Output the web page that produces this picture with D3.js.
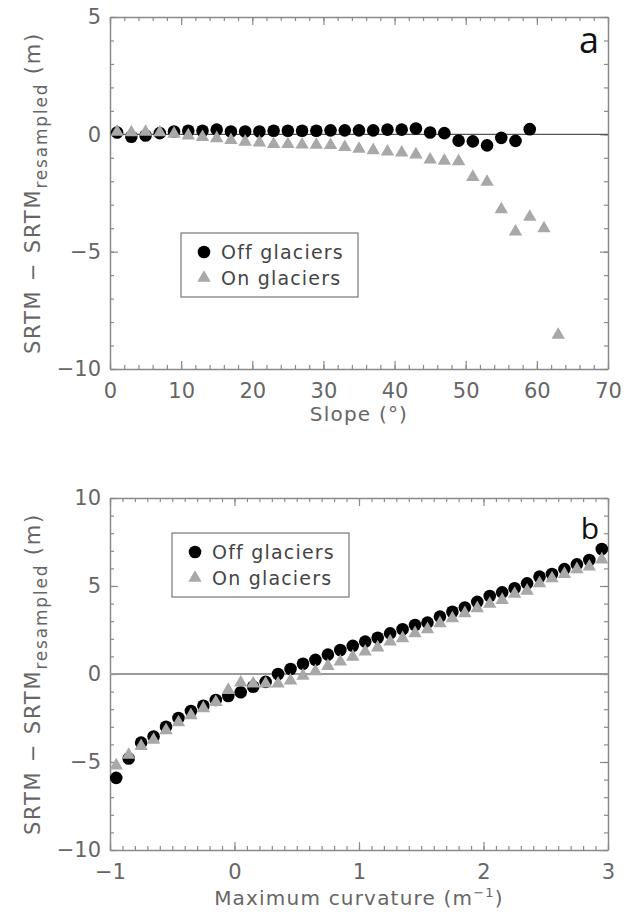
<!DOCTYPE html>
<html>
<head>
<meta charset="utf-8">
<script src="https://cdn.jsdelivr.net/npm/d3@7"></script>
<style>
    body { margin: 0; background: #fff; }
    svg { display: block; }
</style>
</head>
<body>
<svg id="chart"></svg>
<script>
// panel a: slope (deg) vs elevation difference
const slopeOff = [1, 3, 5, 7, 9, 11, 13, 15, 17, 19, 21, 23, 25, 27, 29, 31, 33, 35, 37, 39, 41, 43, 45, 47, 49, 51, 53, 55, 57, 59];
const diffOffA = [0.08, -0.1, -0.05, 0.05, 0.12, 0.15, 0.15, 0.2, 0.12, 0.12, 0.12, 0.15, 0.15, 0.15, 0.15, 0.17, 0.17, 0.17, 0.17, 0.2, 0.2, 0.25, 0.08, 0.05, -0.27, -0.3, -0.47, -0.15, -0.28, 0.22];
const slopeOn = [1, 3, 5, 7, 9, 11, 13, 15, 17, 19, 21, 23, 25, 27, 29, 31, 33, 35, 37, 39, 41, 43, 45, 47, 49, 51, 53, 55, 57, 59, 61, 63];
const diffOnA = [0.1, 0.08, 0.1, 0.08, 0.02, -0.05, -0.12, -0.17, -0.25, -0.32, -0.35, -0.42, -0.42, -0.44, -0.45, -0.46, -0.55, -0.62, -0.68, -0.74, -0.78, -0.86, -1.08, -1.13, -1.15, -1.82, -2.03, -3.2, -4.15, -3.52, -4.01, -8.55];

// panel b: maximum curvature vs elevation difference
const curvature = [-0.95, -0.85, -0.75, -0.65, -0.55, -0.45, -0.35, -0.25, -0.15, -0.05, 0.05, 0.15, 0.25, 0.35, 0.45, 0.55, 0.65, 0.75, 0.85, 0.95, 1.05, 1.15, 1.25, 1.35, 1.45, 1.55, 1.65, 1.75, 1.85, 1.95, 2.05, 2.15, 2.25, 2.35, 2.45, 2.55, 2.65, 2.75, 2.85, 2.95];
const diffOffB = [-5.9, -4.8, -3.9, -3.55, -3.0, -2.5, -2.1, -1.8, -1.48, -1.25, -1.04, -0.72, -0.45, 0.0, 0.28, 0.58, 0.8, 1.1, 1.36, 1.6, 1.84, 2.06, 2.31, 2.54, 2.78, 2.92, 3.26, 3.54, 3.78, 4.1, 4.43, 4.64, 4.87, 5.15, 5.53, 5.68, 5.96, 6.23, 6.48, 7.1];
const diffOnB = [-5.2, -4.6, -4.1, -3.75, -3.2, -2.75, -2.35, -1.95, -1.6, -0.91, -0.49, -0.55, -0.55, -0.55, -0.37, -0.1, 0.15, 0.45, 0.7, 0.98, 1.27, 1.5, 1.84, 2.03, 2.31, 2.54, 2.88, 3.16, 3.45, 3.73, 3.98, 4.2, 4.55, 4.73, 5.15, 5.43, 5.68, 5.95, 6.1, 6.5];

const legendLabels = ["Off glaciers", "On glaciers"];

const width = 630;
const height = 914;
const axisColor = "#8a8a8a";
const textColor = "#666";
const triColor = "#a8a8a8";
const font = "'DejaVu Sans', sans-serif";

const svg = d3.select("#chart")
    .attr("width", width)
    .attr("height", height);

function drawPanel(cfg)
{
    const x = d3.scaleLinear().domain(cfg.xDomain).range([110, 608]);
    const y = d3.scaleLinear().domain(cfg.yDomain).range([cfg.bottom, cfg.top]);

    const g = svg.append("g");

    // minor + major ticks on every side, pointing inward
    const sides = [
        {axis: d3.axisBottom, pos: `translate(0,${cfg.bottom})`, scale: x, labels: true},
        {axis: d3.axisTop, pos: `translate(0,${cfg.top})`, scale: x, labels: false},
        {axis: d3.axisLeft, pos: "translate(110,0)", scale: y, labels: true},
        {axis: d3.axisRight, pos: "translate(608,0)", scale: y, labels: false},
    ];

    sides.forEach(s =>
    {
        const isX = s.scale === x;
        const minor = isX ? cfg.xMinor : cfg.yMinor;
        const major = isX ? cfg.xMajor : cfg.yMajor;

        g.append("g")
            .attr("transform", s.pos)
            .call(s.axis(s.scale).tickValues(minor).tickSize(-4).tickSizeOuter(0).tickFormat(""))
            .call(a => a.select(".domain").remove());

        const ax = g.append("g")
            .attr("transform", s.pos)
            .call(s.axis(s.scale).tickValues(major).tickSize(-8).tickSizeOuter(0)
                .tickPadding(isX ? 14 : 9)
                .tickFormat(s.labels ? (d => d < 0 ? "\u2212" + Math.abs(d) : d) : ""));

        ax.select(".domain").attr("stroke", axisColor).attr("stroke-width", 1.5);
        ax.selectAll("text")
            .attr("fill", textColor)
            .attr("font-family", font)
            .attr("font-size", 21);
        g.selectAll(".tick line").attr("stroke", axisColor).attr("stroke-width", 1.2);
    });

    // zero line
    g.append("line")
        .attr("x1", x(cfg.xDomain[0])).attr("x2", x(cfg.xDomain[1]))
        .attr("y1", y(0)).attr("y2", y(0))
        .attr("stroke", cfg.zeroColor)
        .attr("stroke-width", cfg.zeroWidth);

    const tri = d3.symbol().type(d3.symbolTriangle).size(78);

    g.selectAll(".off")
        .data(cfg.xOff.map((v, i) => [v, cfg.yOff[i]]))
        .enter().append("circle")
        .attr("class", "off")
        .attr("cx", d => x(d[0]))
        .attr("cy", d => y(d[1]))
        .attr("r", 6.3)
        .attr("fill", "#000");

    g.selectAll(".on")
        .data(cfg.xOn.map((v, i) => [v, cfg.yOn[i]]))
        .enter().append("path")
        .attr("class", "on")
        .attr("d", tri)
        .attr("transform", d => `translate(${x(d[0])},${y(d[1])})`)
        .attr("fill", triColor);

    // legend
    const lg = g.append("g").attr("transform", `translate(${cfg.legend[0]},${cfg.legend[1]})`);
    lg.append("rect")
        .attr("width", 177).attr("height", 64)
        .attr("fill", "#fff")
        .attr("stroke", "#777")
        .attr("stroke-width", 1.2);
    lg.append("circle").attr("cx", 23).attr("cy", 19).attr("r", 6.3).attr("fill", "#000");
    lg.append("path").attr("d", tri).attr("transform", "translate(23,45)").attr("fill", triColor);
    lg.selectAll(".lt")
        .data(legendLabels)
        .enter().append("text")
        .attr("x", 40)
        .attr("y", (d, i) => 26 + i * 26)
        .attr("font-family", font)
        .attr("font-size", 19)
        .attr("letter-spacing", 1.2)
        .attr("fill", "#444")
        .text(d => d);

    // panel letter
    g.append("text")
        .attr("x", 599)
        .attr("y", cfg.letterY)
        .attr("text-anchor", "end")
        .attr("font-family", "'Open Sans', sans-serif")
        .attr("font-size", cfg.letterSize)
        .attr("fill", "#111")
        .text(cfg.letter);

    // y title
    const cy = (cfg.top + cfg.bottom) / 2;
    const yt = g.append("text")
        .attr("transform", `translate(40,${cy}) rotate(-90)`)
        .attr("text-anchor", "middle")
        .attr("font-family", font)
        .attr("font-size", 21)
        .attr("letter-spacing", 1.8)
        .attr("fill", textColor);
    yt.append("tspan").text("SRTM \u2212 SRTM");
    yt.append("tspan").attr("font-size", 17).attr("dy", 7).text("resampled");
    yt.append("tspan").attr("dy", -7).text(" (m)");

    // x title
    const xt = g.append("text")
        .attr("x", 359)
        .attr("y", cfg.xTitleY)
        .attr("text-anchor", "middle")
        .attr("font-family", font)
        .attr("font-size", 20)
        .attr("letter-spacing", 1.2)
        .attr("fill", textColor);
    cfg.xTitle(xt);
}

drawPanel({
    xDomain: [0, 70], yDomain: [-10, 5],
    top: 17, bottom: 369,
    xMajor: d3.range(0, 71, 10), xMinor: d3.range(0, 71, 2),
    yMajor: [-10, -5, 0, 5], yMinor: d3.range(-10, 6, 1),
    xOff: slopeOff, yOff: diffOffA, xOn: slopeOn, yOn: diffOnA,
    zeroColor: "#555", zeroWidth: 1.2,
    legend: [181, 233],
    letter: "a", letterY: 53, letterSize: 36,
    xTitleY: 421,
    xTitle: t => t.text("Slope (\u00b0)"),
});

drawPanel({
    xDomain: [-1, 3], yDomain: [-10, 10],
    top: 498, bottom: 850,
    xMajor: [-1, 0, 1, 2, 3], xMinor: d3.range(-10, 31, 1).map(d => d / 10),
    yMajor: [-10, -5, 0, 5, 10], yMinor: d3.range(-10, 11, 1),
    xOff: curvature, yOff: diffOffB, xOn: curvature, yOn: diffOnB,
    zeroColor: "#9a9a9a", zeroWidth: 2,
    legend: [172, 533],
    letter: "b", letterY: 539, letterSize: 30,
    xTitleY: 905,
    xTitle: t =>
    {
        t.append("tspan").text("Maximum curvature (m");
        t.append("tspan").attr("font-size", 13).attr("dy", -8).text("\u22121");
        t.append("tspan").attr("dy", 8).text(")");
    },
});
</script>
</body>
</html>
